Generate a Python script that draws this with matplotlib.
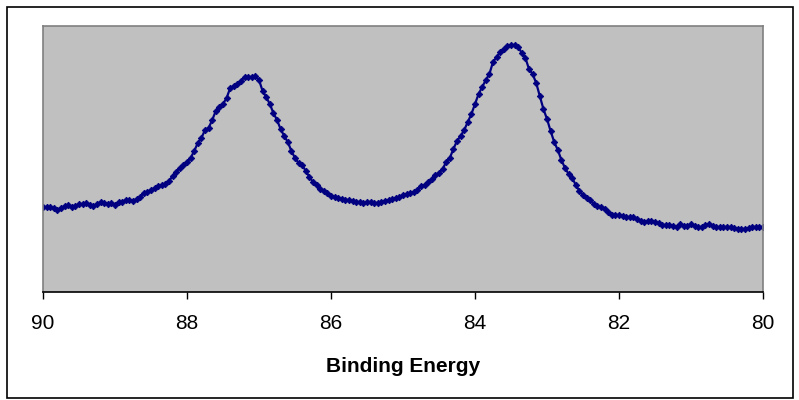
import numpy as np
import matplotlib
matplotlib.use("Agg")
import matplotlib.pyplot as plt
from matplotlib.patches import Rectangle

# binding energy axis, 0.05 eV steps from 90 down to 80
energy = np.round(np.linspace(90, 80, 201), 2)

# intensity (arbitrary units)
intensity = [
    85, 85, 85, 84, 82, 84, 86, 87, 85, 86,
    88, 88, 89, 87, 86, 88, 90, 89, 88, 89,
    87, 90, 90, 92, 92, 91, 93, 95, 99, 100,
    102, 104, 106, 107, 108, 111, 116, 120, 124, 127,
    130, 134, 141, 149, 154, 162, 164, 172, 181, 185,
    188, 194, 204, 206, 208, 211, 215, 215, 215, 216,
    212, 201, 195, 188, 179, 172, 163, 156, 150, 141,
    134, 129, 127, 121, 115, 110, 107, 103, 101, 99,
    96, 95, 94, 93, 92, 92, 91, 90, 90, 89,
    90, 90, 89, 89, 90, 91, 92, 93, 94, 95,
    97, 98, 99, 100, 102, 106, 107, 110, 113, 117,
    119, 123, 130, 134, 143, 151, 156, 162, 170, 178,
    188, 198, 205, 212, 218, 230, 235, 240, 243, 246,
    247, 247, 245, 239, 234, 223, 218, 209, 196, 183,
    173, 161, 150, 142, 132, 124, 118, 114, 107, 101,
    97, 94, 92, 88, 86, 85, 83, 80, 77, 77,
    77, 76, 75, 75, 75, 73, 71, 70, 71, 71,
    70, 69, 67, 67, 67, 66, 65, 68, 66, 66,
    68, 66, 65, 65, 67, 68, 66, 65, 65, 65,
    65, 65, 64, 63, 63, 63, 64, 65, 65, 65,
    65,
]

x_ticks = [90, 88, 86, 84, 82, 80]

plt.rcParams['font.family'] = ['Liberation Sans', 'DejaVu Sans']

fig = plt.figure(figsize=(7.99, 4.0), dpi=100)
ax = fig.add_axes([43 / 799, 108 / 400, 720 / 799, 266 / 400])
ax.set_facecolor('#C0C0C0')

ax.plot(energy, intensity, color='#000080', linewidth=1.6,
        marker='D', markersize=3.3, markeredgewidth=0.6)

ax.set_xlim(90, 80)
ax.set_ylim(0, 266)
ax.set_xticks(x_ticks)
ax.set_xticklabels([str(t) for t in x_ticks], fontsize=15)
ax.set_yticks([])
ax.tick_params(axis='x', direction='out', length=5, width=1, pad=11)

for side in ['top', 'right', 'left']:
    ax.spines[side].set_color('#808080')
    ax.spines[side].set_linewidth(1.2)
ax.spines['bottom'].set_color('black')
ax.spines['bottom'].set_linewidth(1.2)

ax.set_xlabel('Binding Energy', fontsize=15, fontweight='bold', labelpad=17)

# outer chart border
fig.patches.append(Rectangle((7 / 799, 2 / 400), 786 / 799, 391 / 400,
                             transform=fig.transFigure, fill=False,
                             edgecolor='black', linewidth=1.2))

fig.savefig('out.png', dpi=100)
